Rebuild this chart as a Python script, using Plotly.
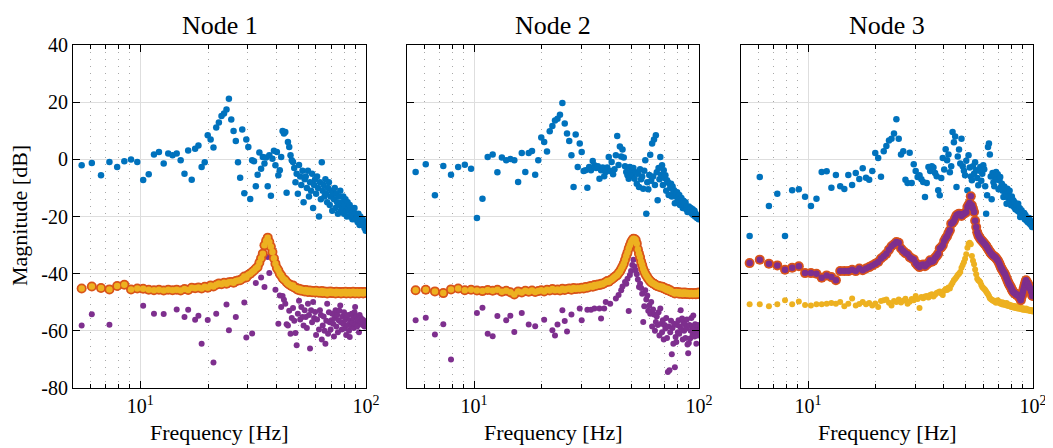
import plotly.graph_objects as go

# ---------------- data ----------------
freq = [5.5, 6.1, 6.7, 7.3, 7.9, 8.5, 9.1, 9.7, 10.3, 10.9,
        11.5, 12.1, 12.7, 13.3, 13.9, 14.5, 15.1, 15.7, 16.3, 16.9,
        17.5, 18.1, 18.7, 19.3, 19.9, 20.5, 21.1, 21.7, 22.3, 22.9,
        23.5, 24.1, 24.7, 25.3, 25.9, 26.5, 27.1, 27.7, 28.3, 28.9,
        29.5, 30.1, 30.7, 31.3, 31.9, 32.5, 33.1, 33.7, 34.3, 34.9,
        35.5, 36.1, 36.7, 37.3, 37.9, 38.5, 39.1, 39.7, 40.3, 40.9,
        41.5, 42.1, 42.7, 43.3, 43.9, 44.5, 45.1, 45.7, 46.3, 46.9,
        47.5, 48.1, 48.7, 49.3, 49.9, 50.5, 51.1, 51.7, 52.3, 52.9,
        53.5, 54.1, 54.7, 55.3, 55.9, 56.5, 57.1, 57.7, 58.3, 58.9,
        59.5, 60.1, 60.7, 61.3, 61.9, 62.5, 63.1, 63.7, 64.3, 64.9,
        65.5, 66.1, 66.7, 67.3, 67.9, 68.5, 69.1, 69.7, 70.3, 70.9,
        71.5, 72.1, 72.7, 73.3, 73.9, 74.5, 75.1, 75.7, 76.3, 76.9,
        77.5, 78.1, 78.7, 79.3, 79.9, 80.5, 81.1, 81.7, 82.3, 82.9,
        83.5, 84.1, 84.7, 85.3, 85.9, 86.5, 87.1, 87.7, 88.3, 88.9,
        89.5, 90.1, 90.7, 91.3, 91.9, 92.5, 93.1, 93.7, 94.3, 94.9,
        95.5, 96.1, 96.7, 97.3, 97.9, 98.5, 99.1, 99.7]

node_titles = ["Node 1", "Node 2", "Node 3"]
x_tick_vals = [10, 100]
x_tick_text = ["10<sup>1</sup>", "10<sup>2</sup>"]
y_tick_vals = [-80, -60, -40, -20, 0, 20, 40]
y_tick_text = ["-80", "-60", "-40", "-20", "0", "20", "40"]

n1_blue = [-2.1, -1.3, -5.6, -0.9, -2.7, -0.7, -0.1, -0.9, -7.2, -5.2,
           1.7, 2.6, -1.5, 2.0, 1.4, 2.0, -0.3, -5.0, 3.1, -7.1,
           3.7, 4.8, -2.7, -1.0, 8.4, 6.9, 4.1, 11.1, 12.9, 15.2,
           16.0, 17.4, 21.2, 13.9, 9.9, 6.4, -1.0, -6.4, 10.4, -11.9,
           6.9, 4.3, -13.9, -0.3, -0.7, -9.4, -5.4, 2.4, -3.3, 0.8,
           -1.5, 0.6, -9.4, 1.4, -12.7, 0.2, 3.0, -2.1, 2.6, -5.6,
           -3.8, 0.8, 9.9, 9.0, 9.6, -11.7, 6.1, 4.3, 1.4, -0.3,
           -0.9, -3.0, -8.0, -5.0, -12.0, -2.0, -6.0, -9.0, -4.0, -15.0,
           -7.0, -6.0, -10.0, -4.0, -13.0, -8.0, -11.0, -5.0, -17.0, -9.0,
           -7.0, -12.0, -6.0, -10.0, -20.0, -8.0, -14.0, -1.0, -11.0, -9.0,
           -13.0, -7.0, -12.0, -15.0, -10.0, -8.0, -16.0, -13.0, -11.0, -18.0,
           -12.0, -14.0, -10.0, -17.0, -12.0, -15.0, -19.0, -13.0, -16.0, -11.0,
           -18.0, -15.0, -17.0, -13.0, -19.0, -16.0, -14.0, -18.0, -20.0, -15.0,
           -17.0, -18.0, -16.0, -20.0, -17.0, -19.0, -21.0, -18.0, -20.0, -17.0,
           -21.0, -19.0, -21.0, -20.0, -22.0, -19.0, -21.0, -23.0, -20.0, -22.0,
           -21.0, -22.0, -21.0, -23.0, -22.0, -24.0, -23.0, -25.0]

n1_orange = [-45.2, -44.5, -45.0, -45.5, -44.3, -43.9, -45.5, -45.2, -45.3, -45.6,
             -45.8, -45.6, -45.9, -45.6, -45.8, -45.6, -45.9, -45.4, -45.7, -44.9,
             -45.1, -44.8, -45.2, -44.6, -44.9, -44.1, -44.5, -43.9, -43.4, -43.7,
             -43.2, -43.5, -43.0, -42.9, -43.2, -42.6, -42.4, -42.3, -41.8, -41.0,
             -41.3, -40.4, -40.0, -39.4, -38.9, -38.2, -37.7, -36.2, -34.6, -33.0,
             -30.1, -28.5, -27.4, -28.9, -30.6, -32.4, -34.6, -36.5, -38.0, -38.8,
             -40.0, -40.6, -41.5, -42.0, -42.3, -43.0, -43.4, -43.8, -44.0, -44.4,
             -44.1, -44.8, -45.0, -45.2, -45.6, -45.3, -45.9, -45.5, -46.0, -45.8,
             -46.2, -45.7, -46.0, -46.4, -45.9, -46.3, -46.0, -46.5, -46.1, -46.3,
             -46.6, -46.0, -46.4, -46.2, -46.7, -46.3, -46.5, -46.1, -46.8, -46.4,
             -46.2, -46.6, -46.4, -46.9, -46.3, -46.5, -46.7, -46.2, -46.6, -46.8,
             -46.4, -46.7, -46.5, -46.9, -46.3, -46.6, -46.8, -46.4, -46.7, -46.5,
             -46.9, -46.6, -46.4, -46.8, -46.5, -46.7, -46.3, -46.9, -46.6, -46.5,
             -46.8, -46.4, -46.7, -46.9, -46.5, -46.6, -46.8, -46.3, -46.7, -46.6,
             -46.9, -46.5, -46.7, -46.4, -46.8, -46.6, -46.9, -46.5, -46.7, -46.4,
             -46.8, -46.6, -46.5, -46.9, -46.6, -46.4, -46.7, -46.5]

n1_purple = [-58.1, -54.2, None, -57.9, None, None, None, None, -51.2, None,
             -54.0, None, -54.1, None, None, -52.5, None, -55.2, -52.6, None,
             -56.1, -54.7, -64.5, None, -56.2, None, -71.1, -54.0, None, None,
             None, -50.8, -59.8, None, None, -55.2, None, None, None, -50.1,
             -62.3, None, None, -60.9, None, -43.3, None, None, -41.3, None,
             -44.7, None, -34.2, -39.8, None, None, None, -45.6, None, -57.5,
             -47.6, -51.7, -47.8, -49.1, -50.5, -57.7, -58.1, -53.0, -61.0, -55.5,
             -52.0, -56.5, -60.8, -65.0, -54.0, -49.5, -56.0, -51.7, -55.2, -58.1,
             -52.8, -55.2, -59.0, -50.5, -54.5, -66.2, -52.8, -57.0, -49.9, -55.5,
             -53.4, -61.5, -56.0, -47.0, -59.5, -52.8, -54.5, -63.0, -58.1, -55.0,
             -60.0, -64.5, -56.5, -50.5, -61.0, -53.5, -57.0, -59.5, -56.3, -54.0,
             -57.5, -62.0, -55.5, -52.8, -58.5, -54.5, -60.5, -56.3, -53.0, -51.1,
             -57.0, -59.5, -55.0, -57.5, -53.5, -59.2, -56.0, -61.5, -55.2, -58.0,
             -54.5, -60.0, -62.2, -56.5, -58.5, -54.0, -57.0, -55.5, -59.0, -53.5,
             -51.7, -57.5, -55.0, -58.5, -56.0, -56.3, -60.5, -54.5, -57.0, -55.5,
             -57.5, -56.0, -58.0, -56.3, -57.5, -58.5, -57.0, -58.0]

n2_blue = [-4.4, -1.7, -12.6, -2.3, -5.4, -2.7, -1.9, -3.3, -20.5, -13.8,
           0.8, 1.7, -4.5, 0.6, -0.3, 0.1, -0.3, -7.9, 2.2, -4.4,
           2.2, 2.9, -5.4, -0.3, 7.6, 6.1, 2.7, 9.8, 11.7, 13.6,
           14.2, 15.6, 19.7, 12.5, 9.0, 6.4, 1.4, -9.7, 8.7, -2.7,
           5.5, 2.6, -4.1, -3.8, -9.9, -2.7, -3.8, -0.6, -2.1, -3.0,
           -2.4, -6.8, -3.8, -2.9, -5.9, -4.4, -2.9, 0.8, -4.1, -0.9,
           -5.2, -3.5, 1.4, 8.2, -2.0, 4.5, 1.0, 3.4, 0.6, -2.4,
           -4.4, -5.6, -6.8, -2.7, -4.4, -5.6, -3.0, -6.8, -4.5, -8.5,
           -5.0, -9.7, -3.5, -7.0, -6.0, -10.3, -4.0, -0.3, -19.0, -8.0,
           -10.5, -5.5, 1.6, -7.5, 5.5, -6.0, 6.9, -9.0, 8.4, -4.5,
           -14.3, -3.0, -7.0, 0.8, -5.5, -2.1, -9.0, -3.8, -6.5, -5.6,
           -11.0, -7.3, -8.0, -12.5, -8.5, -10.0, -8.5, -13.0, -9.5, -11.5,
           -10.8, -15.4, -12.0, -13.0, -11.5, -14.0, -13.2, -12.5, -16.0, -14.9,
           -13.5, -15.5, -17.0, -14.5, -16.0, -16.1, -15.0, -17.5, -16.5, -18.4,
           -17.0, -16.5, -17.8, -18.5, -17.0, -18.5, -19.0, -17.5, -19.5, -19.0,
           -18.0, -20.0, -19.0, -19.5, -20.5, -19.9, -20.5, -21.0]

n2_orange = [-45.8, -45.6, -46.2, -46.8, -45.5, -45.2, -45.8, -45.6, -45.9, -46.1,
             -45.7, -46.0, -45.6, -46.3, -46.0, -46.5, -47.3, -46.2, -46.6, -46.0,
             -46.3, -45.9, -46.4, -46.1, -45.8, -46.2, -45.6, -45.9, -45.4, -45.8,
             -45.5, -45.9, -45.3, -45.7, -45.4, -45.2, -45.6, -45.0, -45.4, -45.1,
             -45.3, -44.9, -45.2, -44.7, -44.9, -44.5, -44.3, -44.6, -44.0, -44.2,
             -43.8, -44.0, -43.5, -43.7, -43.3, -43.0, -42.6, -42.8, -42.3, -42.0,
             -41.6, -41.2, -40.8, -40.5, -39.8, -39.2, -38.4, -37.5, -36.5, -35.2,
             -33.8, -32.6, -31.2, -30.1, -29.0, -28.3, -27.8, -27.9, -28.2, -29.5,
             -31.5, -33.0, -34.2, -35.8, -37.0, -38.3, -39.2, -40.0, -40.6, -41.2,
             -41.7, -42.2, -42.6, -43.0, -43.2, -43.4, -43.5, -43.8, -44.0, -44.2,
             -44.4, -44.3, -44.6, -44.5, -44.8, -44.6, -44.7, -45.0, -45.3, -45.1,
             -45.5, -45.7, -45.4, -45.9, -46.0, -45.8, -46.2, -46.4, -46.3, -46.6,
             -46.5, -46.9, -46.6, -46.4, -46.8, -46.7, -46.5, -47.0, -46.6, -46.8,
             -46.9, -46.7, -47.1, -46.8, -46.6, -47.0, -46.9, -46.7, -47.1, -46.8,
             -47.0, -46.8, -47.2, -46.9, -47.1, -46.8, -47.0, -47.2, -46.9, -47.1,
             -47.0, -46.8, -47.2, -47.0, -46.9, -47.1, -46.8, -46.6]

n2_purple = [-56.3, -55.4, -61.3, -57.7, -70.0, None, None, None, -53.8, -51.9,
             -61.0, -61.9, -54.8, None, -56.3, -54.7, -60.4, None, -53.8, None,
             -57.8, None, -58.4, None, None, -56.1, None, None, -59.8, -61.6,
             -57.8, None, -52.8, -56.6, -60.2, None, -54.3, None, None, None,
             -52.2, -56.3, None, None, -52.6, None, -52.6, None, -52.2, None,
             None, -52.2, -55.7, None, -52.2, -49.9, None, None, -50.5, None,
             None, None, -48.7, None, -47.5, None, -45.8, -44.5, None, -42.9,
             -43.5, -41.8, -53.1, -40.5, -39.1, -37.0, -35.1, -37.5, -38.8, -40.2,
             -42.0, -44.7, -43.5, -45.0, -47.0, -56.9, -51.4, -45.8, -49.0, -47.6,
             -53.0, -51.1, -54.0, -49.9, -58.5, -52.5, -54.3, -60.0, -56.9, -55.0,
             -58.0, -53.5, -61.6, -52.2, -57.5, -60.5, -56.3, -63.0, -58.0, -59.2,
             -55.5, -62.5, -74.4, -58.5, -73.8, -60.5, -56.5, -68.2, -59.0, -64.5,
             -57.5, -72.7, -62.2, -63.9, -58.0, -60.5, -56.3, -61.0, -58.5, -52.8,
             -59.5, -55.7, -63.0, -57.0, -60.0, -57.7, -62.5, -59.2, -56.0, -64.8,
             -67.8, -64.3, -58.0, -62.7, -60.0, -55.5, -58.4, -61.5, -54.6, -59.0,
             -62.0, -57.7, -60.5, -64.5, -59.5, -61.6, -58.0, -60.0]

n3_blue = [-26.8, -6.2, -16.3, -12.0, -26.8, -10.8, -10.5, -13.1, -16.3, -13.8,
           -4.4, -4.2, -9.9, -5.5, -9.4, -10.4, -5.5, -9.0, -4.8, -6.9,
           -3.1, -6.4, -7.1, -4.1, 2.2, 0.5, -6.1, 2.8, 4.7, 6.6,
           7.2, 9.0, 14.0, 7.2, 1.7, 2.8, -7.1, -8.3, 2.3, -8.3,
           -1.7, -4.1, -6.2, -5.6, -7.0, -7.9, -13.2, -8.3, -2.7, -4.1,
           -2.4, -2.9, -4.8, -5.9, -10.8, -12.6, -6.5, 0.5, -3.6, 3.5,
           -0.3, 1.7, -4.5, -2.4, 9.6, 6.0, 8.0, -9.7, 1.0, 3.4,
           -1.5, 7.2, -2.4, -4.0, -5.6, -0.5, -10.8, 1.4, -2.9, -6.0,
           -7.3, -2.4, -5.0, -1.0, -3.8, -6.5, -9.1, -4.0, -2.7, -7.5,
           -5.0, -2.1, -3.5, -9.4, -19.0, -12.6, 4.3, 5.5, 1.7, -6.0,
           -14.0, -4.8, -8.0, -9.4, -6.5, -4.4, -7.0, -5.2, -10.5, -7.3,
           -6.2, -9.7, -8.5, -11.0, -13.2, -9.5, -10.3, -12.0, -15.5, -10.3,
           -13.5, -12.6, -11.0, -14.5, -16.1, -13.0, -15.0, -14.3, -16.7, -15.0,
           -17.5, -17.3, -16.0, -18.0, -15.5, -18.4, -17.0, -20.2, -19.0, -17.8,
           -18.5, -19.5, -20.0, -18.8, -21.0, -19.5, -20.2, -21.5, -20.5, -22.0,
           -21.3, -20.5, -22.5, -21.5, -23.0, -22.0, -23.7, -22.5]

n3_red = [-36.3, -35.1, -36.5, -37.1, -38.6, -37.9, -37.4, -39.8, -39.8, -40.0,
          -41.4, -40.6, -41.2, -42.3, -39.1, -39.1, -39.1, -38.6, -39.1, -38.2,
          -38.8, -38.2, -37.7, -37.1, -36.5, -35.9, -34.7, -33.9, -33.0, -31.6,
          -30.4, -29.7, -28.9, -29.2, -31.2, -32.1, -32.8, -33.2, -34.2, -34.7,
          -35.0, -36.3, -37.1, -37.7, -37.0, -36.8, -37.4, -36.8, -36.3, -35.3,
          -35.8, -35.5, -34.4, -33.8, -33.0, -31.2, -30.8, -30.1, -28.6, -27.6,
          -26.9, -25.8, -24.8, -22.5, -22.2, -21.6, -20.5, -19.6, -19.3, -19.0,
          -19.5, -19.8, -19.2, -19.0, -18.8, -18.4, -16.7, -16.0, -15.3, -12.9,
          -16.1, -17.2, -18.4, -21.5, -23.7, -25.5, -26.6, -27.2, -27.8, -28.2,
          -28.6, -29.0, -29.4, -29.8, -30.2, -30.8, -31.3, -31.8, -32.3, -32.8,
          -33.2, -33.5, -33.8, -34.0, -34.2, -34.5, -35.0, -35.3, -35.9, -36.5,
          -37.2, -37.9, -38.4, -38.9, -39.4, -39.8, -40.2, -41.0, -41.6, -42.3,
          -42.9, -43.5, -44.0, -44.4, -44.9, -45.5, -46.0, -46.4, -46.7, -46.8,
          -47.0, -47.2, -47.5, -47.4, -47.6, -47.9, -48.3, -48.8, -49.3, -48.2,
          -47.5, -46.5, -45.5, -44.7, -43.8, -43.0, -42.3, -42.9, -43.2, -43.5,
          -44.0, -44.6, -45.0, -45.2, -46.0, -46.5, -47.6, -47.8]

n3_yellow = [-50.7, -50.7, -51.4, -50.7, -49.3, -50.7, -49.7, -51.0, -51.1, -50.7,
             -50.7, -50.5, -50.3, -50.5, -49.9, -51.4, -50.5, -48.7, -51.1, -50.6,
             -49.9, -50.7, -50.3, -51.1, -50.4, -51.7, -49.6, -49.3, -49.0, -50.2,
             -51.1, -49.6, -49.9, -49.0, -50.1, -49.5, -48.8, -50.5, -49.8, -48.9,
             -49.3, -47.8, -48.9, -52.0, -48.2, -48.6, -48.0, -47.8, -48.3, -47.5,
             -47.2, -48.0, -47.4, -46.8, -46.5, -46.2, -46.9, -47.5, -46.0, -45.4,
             -45.7, -44.8, -45.2, -44.0, -43.2, -42.3, -41.8, -41.2, -40.5, -40.0,
             -39.4, -37.9, -37.0, -36.0, -34.8, -33.2, -30.9, -29.5, -29.2, -29.7,
             -33.8, -35.5, -36.7, -38.5, -40.2, -41.8, -42.3, -42.6, -43.0, -44.0,
             -44.7, -45.0, -45.4, -45.7, -46.2, -46.8, -47.2, -47.8, -48.6, -48.9,
             -49.1, -49.3, -49.6, -49.5, -49.9, -50.2, -49.6, -49.3, -50.1, -49.8,
             -50.4, -50.5, -50.0, -50.8, -50.2, -50.5, -51.0, -50.6, -50.3, -51.2,
             -51.1, -50.8, -51.4, -51.0, -51.6, -51.7, -51.2, -51.5, -51.9, -51.3,
             -51.8, -52.0, -51.5, -52.2, -52.0, -51.7, -52.3, -51.9, -52.4, -52.0,
             -52.5, -52.1, -52.6, -52.3, -52.4, -52.7, -52.2, -52.8, -52.5, -52.5,
             -52.9, -52.6, -53.0, -52.7, -53.1, -53.0, -52.8, -53.2]

# ---------------- style ----------------
BLUE = "#0072BD"
RED = "#D95319"
YELLOW = "#EDB120"
PURPLE = "#7E2F8E"
SERIF = "Liberation Serif"

# the page body adds an 8 px offset; the figure is sized/positioned to compensate
OFF = 8
W, H = 1053 - OFF, 448 - OFF
panels_px = [(73 - OFF, 366 - OFF), (407 - OFF, 699 - OFF), (741 - OFF, 1033 - OFF)]
top_px, bot_px = 45 - OFF, 388 - OFF

fig = go.Figure()


def pts(y, color, size, ax):
    return go.Scatter(x=freq, y=y, mode="markers", showlegend=False,
                      marker=dict(color=color, size=size, line=dict(width=0)),
                      xaxis="x" + ax, yaxis="y" + ax, hoverinfo="skip")


# node 1
fig.add_trace(pts(n1_blue, BLUE, 6.5, ""))
fig.add_trace(pts(n1_purple, PURPLE, 6, ""))
fig.add_trace(pts(n1_orange, RED, 10, ""))
fig.add_trace(pts(n1_orange, YELLOW, 6.5, ""))
# node 2
fig.add_trace(pts(n2_blue, BLUE, 6.5, "2"))
fig.add_trace(pts(n2_purple, PURPLE, 6, "2"))
fig.add_trace(pts(n2_orange, RED, 10, "2"))
fig.add_trace(pts(n2_orange, YELLOW, 6.5, "2"))
# node 3
fig.add_trace(pts(n3_blue, BLUE, 6.5, "3"))
fig.add_trace(pts(n3_yellow, YELLOW, 6, "3"))
fig.add_trace(pts(n3_red, RED, 10, "3"))
fig.add_trace(pts(n3_red, PURPLE, 6.5, "3"))

ydom = [1 - bot_px / H, 1 - top_px / H]
layout = dict(width=W, height=H, paper_bgcolor="white", plot_bgcolor="white",
              margin=dict(l=0, r=0, t=0, b=0), template="none",
              font=dict(family=SERIF, color="black"))

tickfont = dict(family=SERIF, size=20, color="black")
for i, (x0, x1) in enumerate(panels_px):
    suf = "" if i == 0 else str(i + 1)
    layout["xaxis" + suf] = dict(
        domain=[x0 / W, x1 / W], anchor="y" + suf, type="log",
        range=[0.702, 2.0], tickvals=x_tick_vals, ticktext=x_tick_text,
        ticks="inside", ticklen=7, tickwidth=1, tickcolor="black",
        showline=True, linecolor="black", linewidth=1, mirror="ticks",
        showgrid=True, gridcolor="#dedede", gridwidth=1, zeroline=False,
        tickfont=tickfont, automargin=False,
        minor=dict(tickvals=[6, 7, 8, 9, 20, 30, 40, 50, 60, 70, 80, 90],
                   ticks="inside", ticklen=4, tickcolor="black",
                   showgrid=True, gridcolor="#a8a8a8", griddash="1px,6px",
                   gridwidth=1))
    layout["yaxis" + suf] = dict(
        domain=ydom, anchor="x" + suf, range=[-80, 40],
        tickvals=y_tick_vals, ticktext=y_tick_text,
        ticks="inside", ticklen=7, tickwidth=1, tickcolor="black",
        showline=True, linecolor="black", linewidth=1, mirror="ticks",
        showgrid=True, gridcolor="#dedede", gridwidth=1, zeroline=False,
        showticklabels=(i == 0), tickfont=tickfont, automargin=False)

annotations = []
for i, (x0, x1) in enumerate(panels_px):
    xc = (x0 + x1) / 2 / W
    annotations.append(dict(text=node_titles[i], x=xc, y=1 - (26 - OFF) / H,
                            xref="paper", yref="paper", showarrow=False,
                            xanchor="center", yanchor="middle",
                            font=dict(family=SERIF, size=26, color="black")))
    annotations.append(dict(text="Frequency [Hz]", x=xc, y=1 - (432 - OFF) / H,
                            xref="paper", yref="paper", showarrow=False,
                            xanchor="center", yanchor="middle",
                            font=dict(family=SERIF, size=22, color="black")))
annotations.append(dict(text="Magnitude [dB]", x=(20 - OFF) / W, y=1 - (216 - OFF) / H,
                        xref="paper", yref="paper", showarrow=False,
                        textangle=-90, xanchor="center", yanchor="middle",
                        font=dict(family=SERIF, size=22, color="black")))
layout["annotations"] = annotations

fig.update_layout(**layout)
fig.write_html("out.html")
